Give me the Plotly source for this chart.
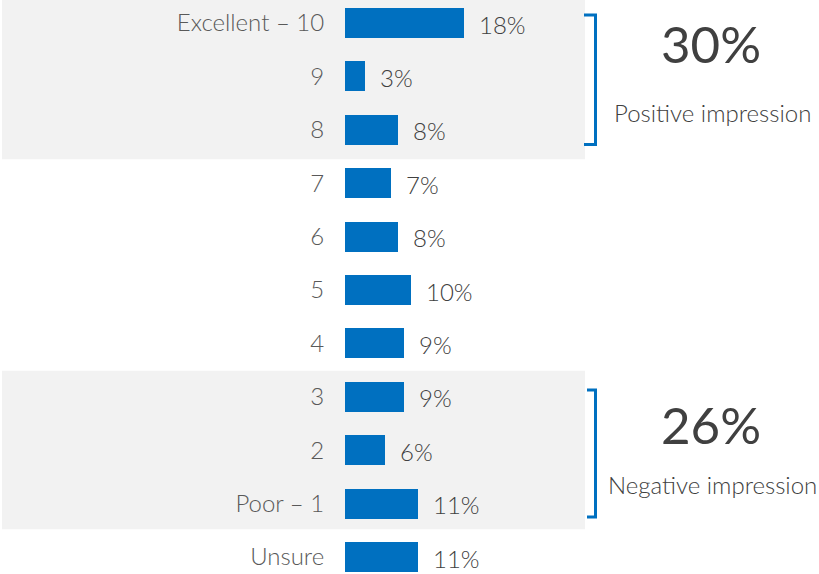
import plotly.graph_objects as go

categories = ["Excellent – 10", "9", "8", "7", "6", "5", "4", "3", "2", "Poor – 1", "Unsure"]
values = [18, 3, 8, 7, 8, 10, 9, 9, 6, 11, 11]
summary_values = ["30%", "26%"]
summary_labels = ["Positive impression", "Negative impression"]

BAR = "#0070C0"
W, H = 819, 574
PX_PER_PCT = 6.6
X0_PX = 345
x_range = [-X0_PX / PX_PER_PCT, (W - X0_PX) / PX_PER_PCT]

def xd(px):
    return (px - X0_PX) / PX_PER_PCT

fig = go.Figure()
fig.add_trace(go.Bar(
    x=values, y=categories, orientation="h",
    marker=dict(color=BAR, line=dict(width=0)),
    width=0.56, hoverinfo="skip",
))

# value labels
for i, v in enumerate(values):
    fig.add_annotation(x=v, y=i, text=f"{v}%", showarrow=False,
                       xanchor="left", xshift=13, yshift=-1,
                       font=dict(family="Lato", size=24, color="#404040", weight=300))

shapes = []
# gray bands
shapes.append(dict(type="rect", xref="x", yref="y", x0=xd(2), x1=xd(585), y0=-0.6, y1=2.553,
                   fillcolor="#F2F2F2", line=dict(width=0), layer="below"))
shapes.append(dict(type="rect", xref="x", yref="y", x0=xd(2), x1=xd(585), y0=6.51, y1=9.48,
                   fillcolor="#F2F2F2", line=dict(width=0), layer="below"))
# brackets
for (ya, yb, xa) in [(-0.15, 2.275, 584), (6.873, 9.25, 587)]:
    shapes.append(dict(type="path", xref="x", yref="y",
                       path=f"M {xd(xa)},{ya} L {xd(595.5)},{ya} L {xd(595.5)},{yb} L {xd(xa)},{yb}",
                       line=dict(color=BAR, width=3)))
fig.update_layout(shapes=shapes)

# summary annotations
for sv, sl, ybig, ysmall in [(summary_values[0], summary_labels[0], 0.39, 1.67),
                              (summary_values[1], summary_labels[1], 7.51, 8.65)]:
    fig.add_annotation(x=xd(711), y=ybig, text=sv, showarrow=False, xanchor="center",
                       font=dict(family="Lato", size=51, color="#404040"))
    fig.add_annotation(x=xd(712), y=ysmall, text=sl, showarrow=False, xanchor="center",
                       font=dict(family="Lato", size=24, color="#404040", weight=300))

fig.update_layout(
    width=W, height=H,
    margin=dict(l=0, r=0, t=0, b=0, pad=0),
    paper_bgcolor="white", plot_bgcolor="rgba(0,0,0,0)",
    showlegend=False,
    bargap=0,
    xaxis=dict(range=x_range, visible=False, fixedrange=True),
    yaxis=dict(type="category", categoryarray=categories, range=[10.318, -0.4307],
               anchor="free", position=X0_PX / W, automargin=False,
               showgrid=False, zeroline=False, showline=False,
               ticks="outside", ticklen=16, tickcolor="rgba(0,0,0,0)",
               tickfont=dict(family="Lato", size=24, color="#595959", weight=300)),
)

fig.write_html("out.html", config={"displayModeBar": False},
               post_script="document.body.style.margin='0px';")
